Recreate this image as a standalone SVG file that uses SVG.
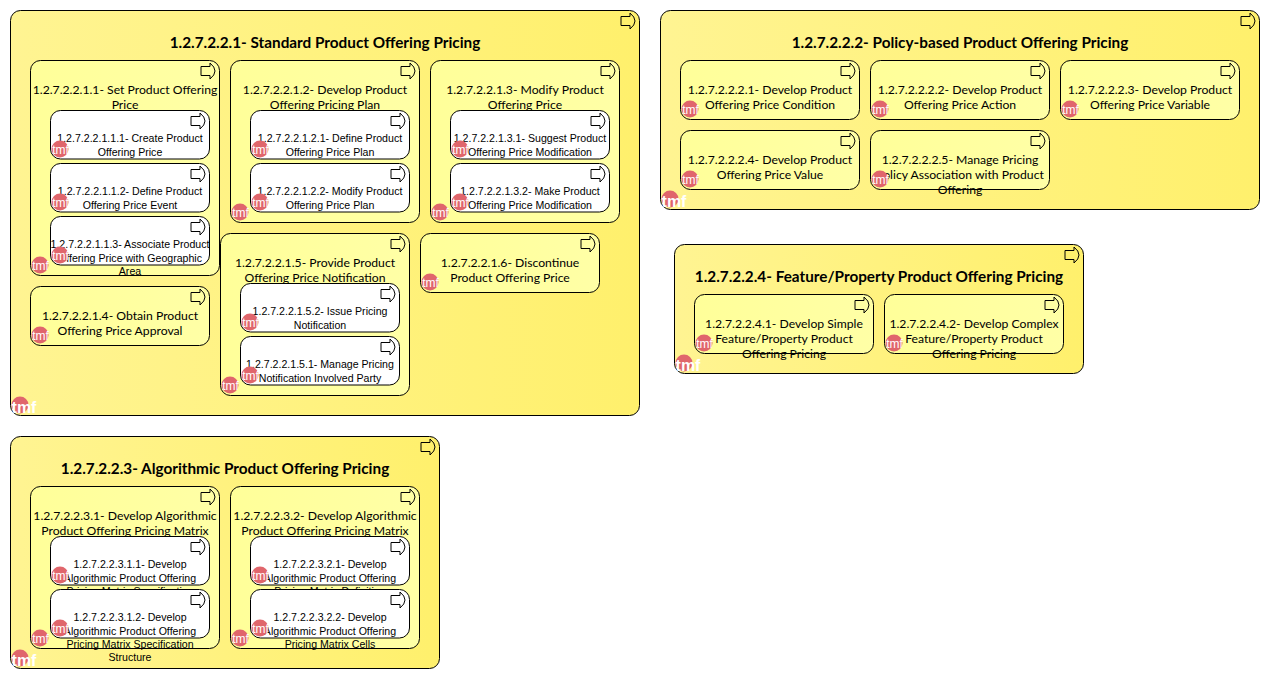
<svg xmlns="http://www.w3.org/2000/svg" width="1270" height="679" viewBox="0 0 1270 679">
<style>
.a{stroke:#000;stroke-width:1;fill:url(#ga)}
.b{stroke:#000;stroke-width:1;fill:url(#gb)}
.c{stroke:#000;stroke-width:1;fill:#fff}
.ta{font:bold 15.3px Lato,"Liberation Sans",sans-serif;text-anchor:middle;fill:#000}
.tb{font:12.2px Lato,"Liberation Sans",sans-serif;text-anchor:middle;fill:#000}
.tc{font:10.6px "Liberation Sans",Arial,sans-serif;text-anchor:middle;fill:#000}
.dot{fill:#e0666c}
.tm{font:12px "Liberation Sans",Arial,sans-serif;fill:#fff;text-anchor:middle}
.tl{font:bold 16px "Liberation Sans",Arial,sans-serif;fill:#fff;text-anchor:middle}
</style>
<defs>
<linearGradient id="ga" x1="0" y1="0" x2="1" y2="0"><stop offset="0" stop-color="#fff492"/><stop offset="1" stop-color="#fff06c"/></linearGradient>
<linearGradient id="gb" x1="0" y1="0" x2="1" y2="0"><stop offset="0" stop-color="#ffff99"/><stop offset="1" stop-color="#ffffa6"/></linearGradient>
<path id="ar" d="M0 3.5H9V0Q14 4 14 8Q14 12 9 16V12.500H0Z" fill="none" stroke="#000" stroke-width="1"/>
<g id="s"><circle cx="0" cy="0" r="8.500" class="dot"/><text x="0.5" y="5" class="tm">tmf</text></g>
<g id="l"><circle cx="0" cy="0" r="8.500" class="dot"/><text x="4" y="8" class="tl">tmf</text></g>
</defs>

<g id="n1">
<rect x="10.500" y="10.500" width="629" height="405" rx="10" class="a"/>
<text x="325" y="47.500" class="ta">1.2.7.2.2.1- Standard Product Offering Pricing</text>
<use href="#ar" x="621" y="13"/><use href="#l" x="20" y="405"/>
<g id="n1-1">
<rect x="30.500" y="60.500" width="189" height="215" rx="10" class="b"/>
<text x="125" y="94" class="tb">1.2.7.2.2.1.1- Set Product Offering</text><text x="125" y="109" class="tb">Price</text>
<use href="#ar" x="201" y="63"/><use href="#s" x="40" y="265"/>
<g id="n1-1-1"><rect x="50.500" y="110.500" width="159" height="48.500" rx="10" class="c"/>
<text x="130" y="142" class="tc">1.2.7.2.2.1.1.1- Create Product</text><text x="130" y="155.500" class="tc">Offering Price</text>
<use href="#ar" x="191" y="113"/><use href="#s" x="60" y="149"/></g>
<g id="n1-1-2"><rect x="50.500" y="163.500" width="159" height="48.500" rx="10" class="c"/>
<text x="130" y="195" class="tc">1.2.7.2.2.1.1.2- Define Product</text><text x="130" y="208.500" class="tc">Offering Price Event</text>
<use href="#ar" x="191" y="166"/><use href="#s" x="60" y="202"/></g>
<g id="n1-1-3"><rect x="50.500" y="216.500" width="159" height="48.500" rx="10" class="c"/>
<text x="130" y="248" class="tc">1.2.7.2.2.1.1.3- Associate Product</text><text x="130" y="261.500" class="tc">Offering Price with Geographic</text><text x="130" y="274.500" class="tc">Area</text>
<use href="#ar" x="191" y="219"/><use href="#s" x="60" y="255"/></g>
</g>
<g id="n1-2">
<rect x="230.500" y="60.500" width="189" height="162" rx="10" class="b"/>
<text x="325" y="94" class="tb">1.2.7.2.2.1.2- Develop Product</text><text x="325" y="109" class="tb">Offering Pricing Plan</text>
<use href="#ar" x="401" y="63"/><use href="#s" x="240" y="212"/>
<g id="n1-2-1"><rect x="250.500" y="110.500" width="159" height="48.500" rx="10" class="c"/>
<text x="330" y="142" class="tc">1.2.7.2.2.1.2.1- Define Product</text><text x="330" y="155.500" class="tc">Offering Price Plan</text>
<use href="#ar" x="391" y="113"/><use href="#s" x="260" y="149"/></g>
<g id="n1-2-2"><rect x="250.500" y="163.500" width="159" height="48.500" rx="10" class="c"/>
<text x="330" y="195" class="tc">1.2.7.2.2.1.2.2- Modify Product</text><text x="330" y="208.500" class="tc">Offering Price Plan</text>
<use href="#ar" x="391" y="166"/><use href="#s" x="260" y="202"/></g>
</g>
<g id="n1-3">
<rect x="430.500" y="60.500" width="189" height="162" rx="10" class="b"/>
<text x="525" y="94" class="tb">1.2.7.2.2.1.3- Modify Product</text><text x="525" y="109" class="tb">Offering Price</text>
<use href="#ar" x="601" y="63"/><use href="#s" x="440" y="212"/>
<g id="n1-3-1"><rect x="450.500" y="110.500" width="159" height="48.500" rx="10" class="c"/>
<text x="530" y="142" class="tc">1.2.7.2.2.1.3.1- Suggest Product</text><text x="530" y="155.500" class="tc">Offering Price Modification</text>
<use href="#ar" x="591" y="113"/><use href="#s" x="460" y="149"/></g>
<g id="n1-3-2"><rect x="450.500" y="163.500" width="159" height="48.500" rx="10" class="c"/>
<text x="530" y="195" class="tc">1.2.7.2.2.1.3.2- Make Product</text><text x="530" y="208.500" class="tc">Offering Price Modification</text>
<use href="#ar" x="591" y="166"/><use href="#s" x="460" y="202"/></g>
</g>
<g id="n1-4">
<rect x="30.500" y="286.500" width="179" height="59" rx="10" class="b"/>
<text x="120" y="320" class="tb">1.2.7.2.2.1.4- Obtain Product</text><text x="120" y="335" class="tb">Offering Price Approval</text>
<use href="#ar" x="191" y="289"/><use href="#s" x="40" y="335"/>
</g>
<g id="n1-5">
<rect x="220.500" y="233.500" width="189" height="162" rx="10" class="b"/>
<text x="315" y="267" class="tb">1.2.7.2.2.1.5- Provide Product</text><text x="315" y="282" class="tb">Offering Price Notification</text>
<use href="#ar" x="391" y="236"/><use href="#s" x="230" y="385"/>
<g id="n1-5-2"><rect x="240.500" y="283.500" width="159" height="48.500" rx="10" class="c"/>
<text x="320" y="315" class="tc">1.2.7.2.2.1.5.2- Issue Pricing</text><text x="320" y="328.500" class="tc">Notification</text>
<use href="#ar" x="381" y="286"/><use href="#s" x="250" y="322"/></g>
<g id="n1-5-1"><rect x="240.500" y="336.500" width="159" height="48.500" rx="10" class="c"/>
<text x="320" y="368" class="tc">1.2.7.2.2.1.5.1- Manage Pricing</text><text x="320" y="381.500" class="tc">Notification Involved Party</text>
<use href="#ar" x="381" y="339"/><use href="#s" x="250" y="375"/></g>
</g>
<g id="n1-6">
<rect x="420.500" y="233.500" width="179" height="59" rx="10" class="b"/>
<text x="510" y="267" class="tb">1.2.7.2.2.1.6- Discontinue</text><text x="510" y="282" class="tb">Product Offering Price</text>
<use href="#ar" x="581" y="236"/><use href="#s" x="430" y="282"/>
</g>
</g>

<g id="n2">
<rect x="660.500" y="10.500" width="599" height="199" rx="10" class="a"/>
<text x="960" y="47.500" class="ta">1.2.7.2.2.2- Policy-based Product Offering Pricing</text>
<use href="#ar" x="1241" y="13"/><use href="#l" x="670" y="199"/>
<g id="n2-1"><rect x="680.500" y="60.500" width="179" height="59" rx="10" class="b"/>
<text x="770" y="94" class="tb">1.2.7.2.2.2.1- Develop Product</text><text x="770" y="109" class="tb">Offering Price Condition</text>
<use href="#ar" x="841" y="63"/><use href="#s" x="690" y="109"/></g>
<g id="n2-2"><rect x="870.500" y="60.500" width="179" height="59" rx="10" class="b"/>
<text x="960" y="94" class="tb">1.2.7.2.2.2.2- Develop Product</text><text x="960" y="109" class="tb">Offering Price Action</text>
<use href="#ar" x="1031" y="63"/><use href="#s" x="880" y="109"/></g>
<g id="n2-3"><rect x="1060.500" y="60.500" width="179" height="59" rx="10" class="b"/>
<text x="1150" y="94" class="tb">1.2.7.2.2.2.3- Develop Product</text><text x="1150" y="109" class="tb">Offering Price Variable</text>
<use href="#ar" x="1221" y="63"/><use href="#s" x="1070" y="109"/></g>
<g id="n2-4"><rect x="680.500" y="130.500" width="179" height="59" rx="10" class="b"/>
<text x="770" y="164" class="tb">1.2.7.2.2.2.4- Develop Product</text><text x="770" y="179" class="tb">Offering Price Value</text>
<use href="#ar" x="841" y="133"/><use href="#s" x="690" y="179"/></g>
<g id="n2-5"><rect x="870.500" y="130.500" width="179" height="59" rx="10" class="b"/>
<text x="960" y="164" class="tb">1.2.7.2.2.2.5- Manage Pricing</text><text x="960" y="179" class="tb">Policy Association with Product</text><text x="960" y="194" class="tb">Offering</text>
<use href="#ar" x="1031" y="133"/><use href="#s" x="880" y="179"/></g>
</g>

<g id="n4">
<rect x="674.500" y="244.500" width="409" height="129" rx="10" class="a"/>
<text x="879" y="281.500" class="ta">1.2.7.2.2.4- Feature/Property Product Offering Pricing</text>
<use href="#ar" x="1065" y="247"/><use href="#l" x="684" y="363"/>
<g id="n4-1"><rect x="694.500" y="294.500" width="179" height="59" rx="10" class="b"/>
<text x="784" y="328" class="tb">1.2.7.2.2.4.1- Develop Simple</text><text x="784" y="343" class="tb">Feature/Property Product</text><text x="784" y="358" class="tb">Offering Pricing</text>
<use href="#ar" x="855" y="297"/><use href="#s" x="704" y="343"/></g>
<g id="n4-2"><rect x="884.500" y="294.500" width="179" height="59" rx="10" class="b"/>
<text x="974" y="328" class="tb">1.2.7.2.2.4.2- Develop Complex</text><text x="974" y="343" class="tb">Feature/Property Product</text><text x="974" y="358" class="tb">Offering Pricing</text>
<use href="#ar" x="1045" y="297"/><use href="#s" x="894" y="343"/></g>
</g>

<g id="n3">
<rect x="10.500" y="436.500" width="429" height="232" rx="10" class="a"/>
<text x="225" y="473.500" class="ta">1.2.7.2.2.3- Algorithmic Product Offering Pricing</text>
<use href="#ar" x="421" y="439"/><use href="#l" x="20" y="658"/>
<g id="n3-1">
<rect x="30.500" y="486.500" width="189" height="162" rx="10" class="b"/>
<text x="125" y="520" class="tb">1.2.7.2.2.3.1- Develop Algorithmic</text><text x="125" y="535" class="tb">Product Offering Pricing Matrix</text>
<use href="#ar" x="201" y="489"/><use href="#s" x="40" y="638"/>
<g id="n3-1-1"><rect x="50.500" y="536.500" width="159" height="48.500" rx="10" class="c"/>
<text x="130" y="568" class="tc">1.2.7.2.2.3.1.1- Develop</text><text x="130" y="581.500" class="tc">Algorithmic Product Offering</text><text x="130" y="594.500" class="tc">Pricing Matrix Specification</text>
<use href="#ar" x="191" y="539"/><use href="#s" x="60" y="575"/></g>
<g id="n3-1-2"><rect x="50.500" y="589.500" width="159" height="48.500" rx="10" class="c"/>
<text x="130" y="621" class="tc">1.2.7.2.2.3.1.2- Develop</text><text x="130" y="634.500" class="tc">Algorithmic Product Offering</text><text x="130" y="647.500" class="tc">Pricing Matrix Specification</text><text x="130" y="660.500" class="tc">Structure</text>
<use href="#ar" x="191" y="592"/><use href="#s" x="60" y="628"/></g>
</g>
<g id="n3-2">
<rect x="230.500" y="486.500" width="189" height="162" rx="10" class="b"/>
<text x="325" y="520" class="tb">1.2.7.2.2.3.2- Develop Algorithmic</text><text x="325" y="535" class="tb">Product Offering Pricing Matrix</text>
<use href="#ar" x="401" y="489"/><use href="#s" x="240" y="638"/>
<g id="n3-2-1"><rect x="250.500" y="536.500" width="159" height="48.500" rx="10" class="c"/>
<text x="330" y="568" class="tc">1.2.7.2.2.3.2.1- Develop</text><text x="330" y="581.500" class="tc">Algorithmic Product Offering</text><text x="330" y="594.500" class="tc">Pricing Matrix Definition</text>
<use href="#ar" x="391" y="539"/><use href="#s" x="260" y="575"/></g>
<g id="n3-2-2"><rect x="250.500" y="589.500" width="159" height="48.500" rx="10" class="c"/>
<text x="330" y="621" class="tc">1.2.7.2.2.3.2.2- Develop</text><text x="330" y="634.500" class="tc">Algorithmic Product Offering</text><text x="330" y="647.500" class="tc">Pricing Matrix Cells</text>
<use href="#ar" x="391" y="592"/><use href="#s" x="260" y="628"/></g>
</g>
</g>
</svg>
